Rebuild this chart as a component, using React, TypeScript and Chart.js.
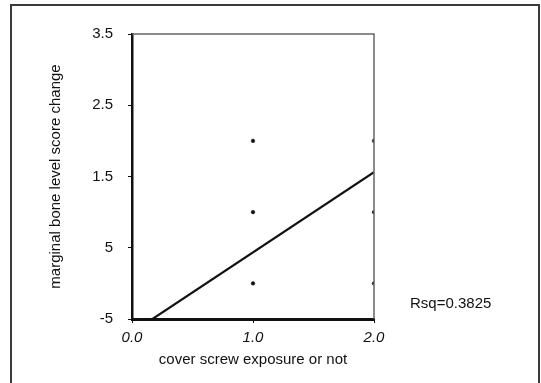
import React, { useEffect, useRef } from "react";
import { Chart, registerables } from "chart.js";

Chart.register(...registerables);

// ---- data ----
const xTickLabels = ["0.0", "1.0", "2.0"];
const yTickLabels = ["-5", "5", "1.5", "2.5", "3.5"];
const exposure = [1, 1, 1, 2, 2, 2];
const boneChange = [2, 1, 0, 2, 1, 0];
const fitX = [0, 2];
const fitY = [-0.69, 1.56];
const rsqLabel = "Rsq=0.3825";
const xTitle = "cover screw exposure or not";
const yTitle = "marginal bone level score change";

const FONT = "'Liberation Sans', Arial, sans-serif";

const framePlugin = {
  id: "frame",
  afterDraw(chart: any) {
    const { ctx, chartArea } = chart;
    ctx.save();
    // outer frame (open at bottom)
    ctx.strokeStyle = "#3a3a3a";
    ctx.lineWidth = 2;
    ctx.beginPath();
    ctx.moveTo(11, 383);
    ctx.lineTo(11, 5);
    ctx.lineTo(539, 5);
    ctx.lineTo(539, 383);
    ctx.stroke();
    // top and right plot border
    ctx.strokeStyle = "#666";
    ctx.lineWidth = 1.5;
    ctx.beginPath();
    ctx.moveTo(chartArea.left, chartArea.top);
    ctx.lineTo(chartArea.right, chartArea.top);
    ctx.lineTo(chartArea.right, chartArea.bottom);
    ctx.stroke();
    // Rsq annotation
    ctx.fillStyle = "#111";
    ctx.font = `15px ${FONT}`;
    ctx.textAlign = "left";
    ctx.textBaseline = "middle";
    ctx.fillText(rsqLabel, 410, 304);
    ctx.restore();
  },
};

export default function App() {
  const ref = useRef<HTMLCanvasElement | null>(null);

  useEffect(() => {
    if (!ref.current) return;
    const points = exposure.map((x, i) => ({ x, y: boneChange[i] }));
    const fit = fitX.map((x, i) => ({ x, y: fitY[i] }));
    const chart = new Chart(ref.current, {
      type: "scatter",
      data: {
        datasets: [
          {
            data: points,
            pointRadius: 1.8,
            pointBackgroundColor: "#111",
            pointBorderColor: "#111",
            pointBorderWidth: 0.5,
          },
          {
            data: fit,
            showLine: true,
            borderColor: "#111",
            borderWidth: 2.2,
            pointRadius: 0,
            fill: false,
          } as any,
        ],
      },
      options: {
        responsive: false,
        animation: false,
        devicePixelRatio: 1,
        layout: { padding: { left: 0, top: 34, right: 167, bottom: 0 } },
        plugins: {
          legend: { display: false },
          tooltip: { enabled: false },
        },
        scales: {
          x: {
            type: "linear",
            min: 0,
            max: 2,
            afterFit(scale: any) {
              scale.height = 64;
            },
            border: { color: "#111", width: 3 },
            grid: { drawOnChartArea: false, tickLength: 4, color: "#111" },
            ticks: {
              stepSize: 1,
              padding: 6,
              color: "#111",
              font: { family: FONT, size: 15, style: "italic" },
              callback: (_v: any, i: number) => xTickLabels[i],
            },
            title: {
              display: true,
              text: xTitle,
              color: "#111",
              font: { family: FONT, size: 15 },
              padding: { top: 0, bottom: 14 },
            },
          },
          y: {
            type: "linear",
            min: -0.5,
            max: 3.5,
            afterFit(scale: any) {
              scale.width = 132;
            },
            border: { color: "#111", width: 2.5 },
            grid: { drawOnChartArea: false, tickLength: 4, color: "#111" },
            ticks: {
              stepSize: 1,
              padding: 15,
              color: "#111",
              font: { family: FONT, size: 15 },
              callback: (_v: any, i: number) => yTickLabels[i],
            },
            title: {
              display: true,
              text: yTitle,
              color: "#111",
              font: { family: FONT, size: 15 },
              padding: { top: 47, bottom: 0 },
            },
          },
        },
      },
      plugins: [framePlugin],
    });
    return () => chart.destroy();
  }, []);

  return (
    <div style={{ position: "absolute", left: 0, top: 0, width: 541, height: 383, background: "#fff" }}>
      <canvas ref={ref} width={541} height={383} style={{ display: "block" }} />
    </div>
  );
}
